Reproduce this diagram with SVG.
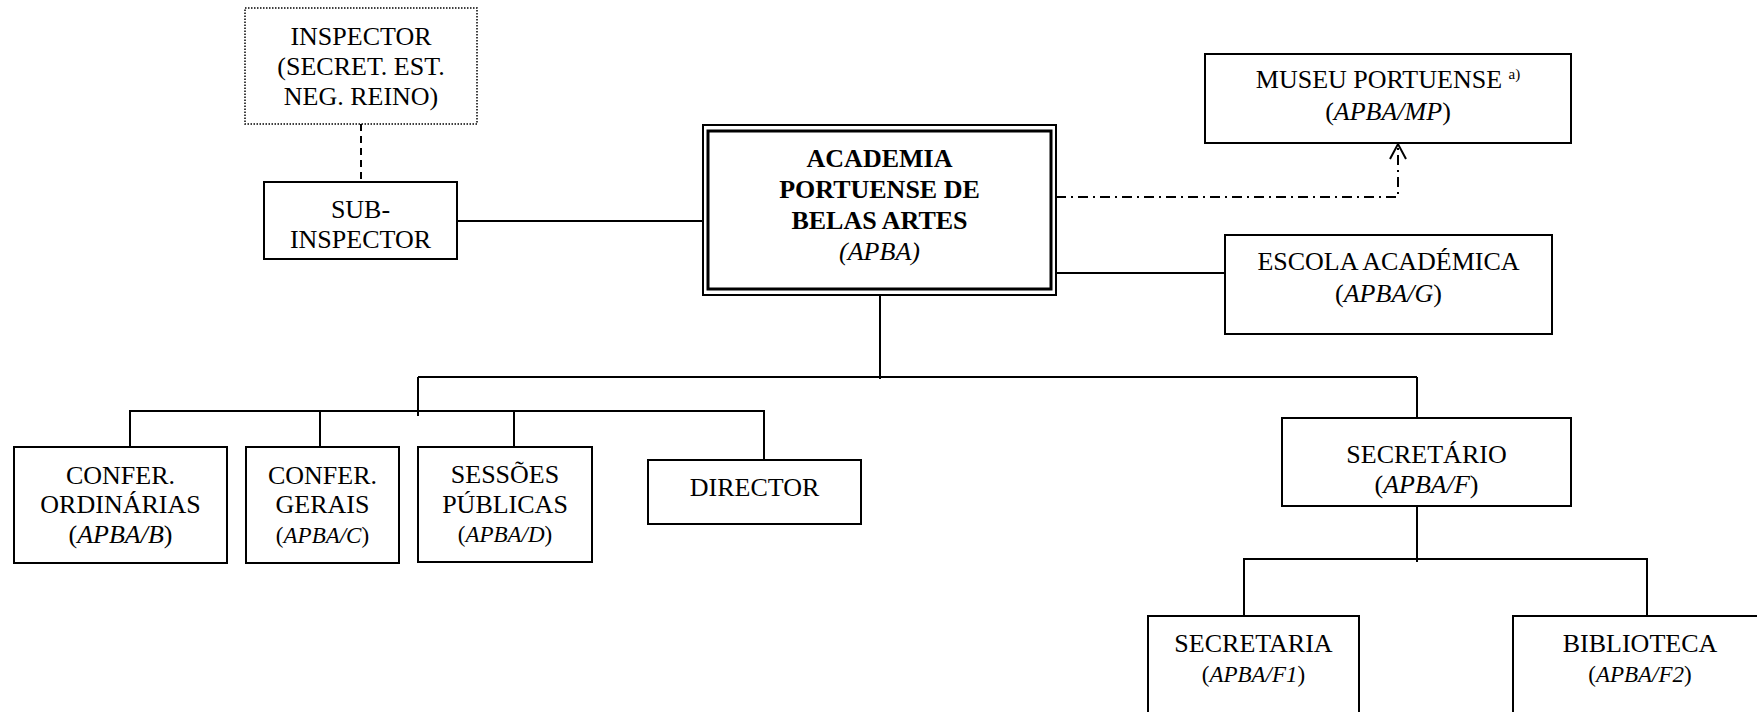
<svg xmlns="http://www.w3.org/2000/svg" width="1757" height="712" viewBox="0 0 1757 712">
<style>
  .box{fill:#fff;stroke:#000;stroke-width:2}
  .ln{fill:none;stroke:#000;stroke-width:2}
  .t{font-family:"Liberation Serif","Times New Roman",serif;font-size:26px;text-anchor:middle;fill:#000}
  .b{font-weight:bold}
  .i{font-style:italic}
  .s{font-size:23px}
</style>
<rect width="1757" height="712" fill="#fff"/>
<g id="connectors">
  <line class="ln" x1="361" y1="124" x2="361" y2="190" stroke-dasharray="7 5"/>
  <line class="ln" x1="457" y1="221" x2="703" y2="221"/>
  <line class="ln" x1="1056" y1="273" x2="1225" y2="273"/>
  <polyline class="ln" points="1056,197 1398,197 1398,145" stroke-dasharray="10 5 2 5"/>
  <polyline class="ln" points="1390,159 1398,144 1406,159"/>
  <line class="ln" x1="880" y1="295" x2="880" y2="379"/>
  <line class="ln" x1="418" y1="377" x2="1417" y2="377"/>
  <line class="ln" x1="418" y1="377" x2="418" y2="416"/>
  <polyline class="ln" points="130,447 130,411 764,411 764,467"/>
  <line class="ln" x1="320" y1="411" x2="320" y2="447"/>
  <line class="ln" x1="514" y1="411" x2="514" y2="447"/>
  <line class="ln" x1="1417" y1="377" x2="1417" y2="418"/>
  <line class="ln" x1="1417" y1="506" x2="1417" y2="562"/>
  <polyline class="ln" points="1244,616 1244,559 1647,559 1647,616"/>
</g>
<g id="inspector">
  <rect x="245" y="8" width="232" height="116" fill="#fff" stroke="#000" stroke-width="1.5" stroke-dasharray="1.5 1.5"/>
  <text class="t" x="361" y="45">INSPECTOR</text>
  <text class="t" x="361" y="75">(SECRET. EST.</text>
  <text class="t" x="361" y="105">NEG. REINO)</text>
</g>
<g id="subinspector">
  <rect class="box" x="264" y="182" width="193" height="77"/>
  <text class="t" x="360.5" y="218">SUB-</text>
  <text class="t" x="360.5" y="248">INSPECTOR</text>
</g>
<g id="academia">
  <rect x="703" y="125" width="353" height="170" fill="#fff" stroke="#000" stroke-width="2"/>
  <rect x="708" y="131" width="343" height="158" fill="none" stroke="#000" stroke-width="3"/>
  <text class="t b" x="879.5" y="167">ACADEMIA</text>
  <text class="t b" x="879.5" y="198">PORTUENSE DE</text>
  <text class="t b" x="879.5" y="229">BELAS ARTES</text>
  <text class="t i" x="879.5" y="260">(APBA)</text>
</g>
<g id="museu">
  <rect class="box" x="1205" y="54" width="366" height="89"/>
  <text class="t" x="1388" y="88">MUSEU PORTUENSE <tspan font-size="15" dy="-9">a)</tspan></text>
  <text class="t" x="1388" y="120">(<tspan class="i">APBA/MP</tspan>)</text>
</g>
<g id="escola">
  <rect class="box" x="1225" y="235" width="327" height="99"/>
  <text class="t" x="1388.5" y="270">ESCOLA ACADÉMICA</text>
  <text class="t" x="1388.5" y="302">(<tspan class="i">APBA/G</tspan>)</text>
</g>
<g id="confer-ordinarias">
  <rect class="box" x="14" y="447" width="213" height="116"/>
  <text class="t" x="120.5" y="484">CONFER.</text>
  <text class="t" x="120.5" y="513">ORDINÁRIAS</text>
  <text class="t" x="120.5" y="543">(<tspan class="i">APBA/B</tspan>)</text>
</g>
<g id="confer-gerais">
  <rect class="box" x="246" y="447" width="153" height="116"/>
  <text class="t" x="322.5" y="484">CONFER.</text>
  <text class="t" x="322.5" y="513">GERAIS</text>
  <text class="t s" x="322.5" y="543">(<tspan class="i">APBA/C</tspan>)</text>
</g>
<g id="sessoes">
  <rect class="box" x="418" y="447" width="174" height="115"/>
  <text class="t" x="505" y="483">SESSÕES</text>
  <text class="t" x="505" y="513">PÚBLICAS</text>
  <text class="t s" x="505" y="542">(<tspan class="i">APBA/D</tspan>)</text>
</g>
<g id="director">
  <rect class="box" x="648" y="460" width="213" height="64"/>
  <text class="t" x="754.5" y="496">DIRECTOR</text>
</g>
<g id="secretario">
  <rect class="box" x="1282" y="418" width="289" height="88"/>
  <text class="t" x="1426.5" y="463">SECRETÁRIO</text>
  <text class="t" x="1426.5" y="493">(<tspan class="i">APBA/F</tspan>)</text>
</g>
<g id="secretaria">
  <rect class="box" x="1148" y="616" width="211" height="110"/>
  <text class="t" x="1253.5" y="652">SECRETARIA</text>
  <text class="t s" x="1253.5" y="682">(<tspan class="i">APBA/F1</tspan>)</text>
</g>
<g id="biblioteca">
  <rect class="box" x="1513" y="616" width="254" height="110"/>
  <text class="t" x="1640" y="652">BIBLIOTECA</text>
  <text class="t s" x="1640" y="682">(<tspan class="i">APBA/F2</tspan>)</text>
</g>
</svg>
